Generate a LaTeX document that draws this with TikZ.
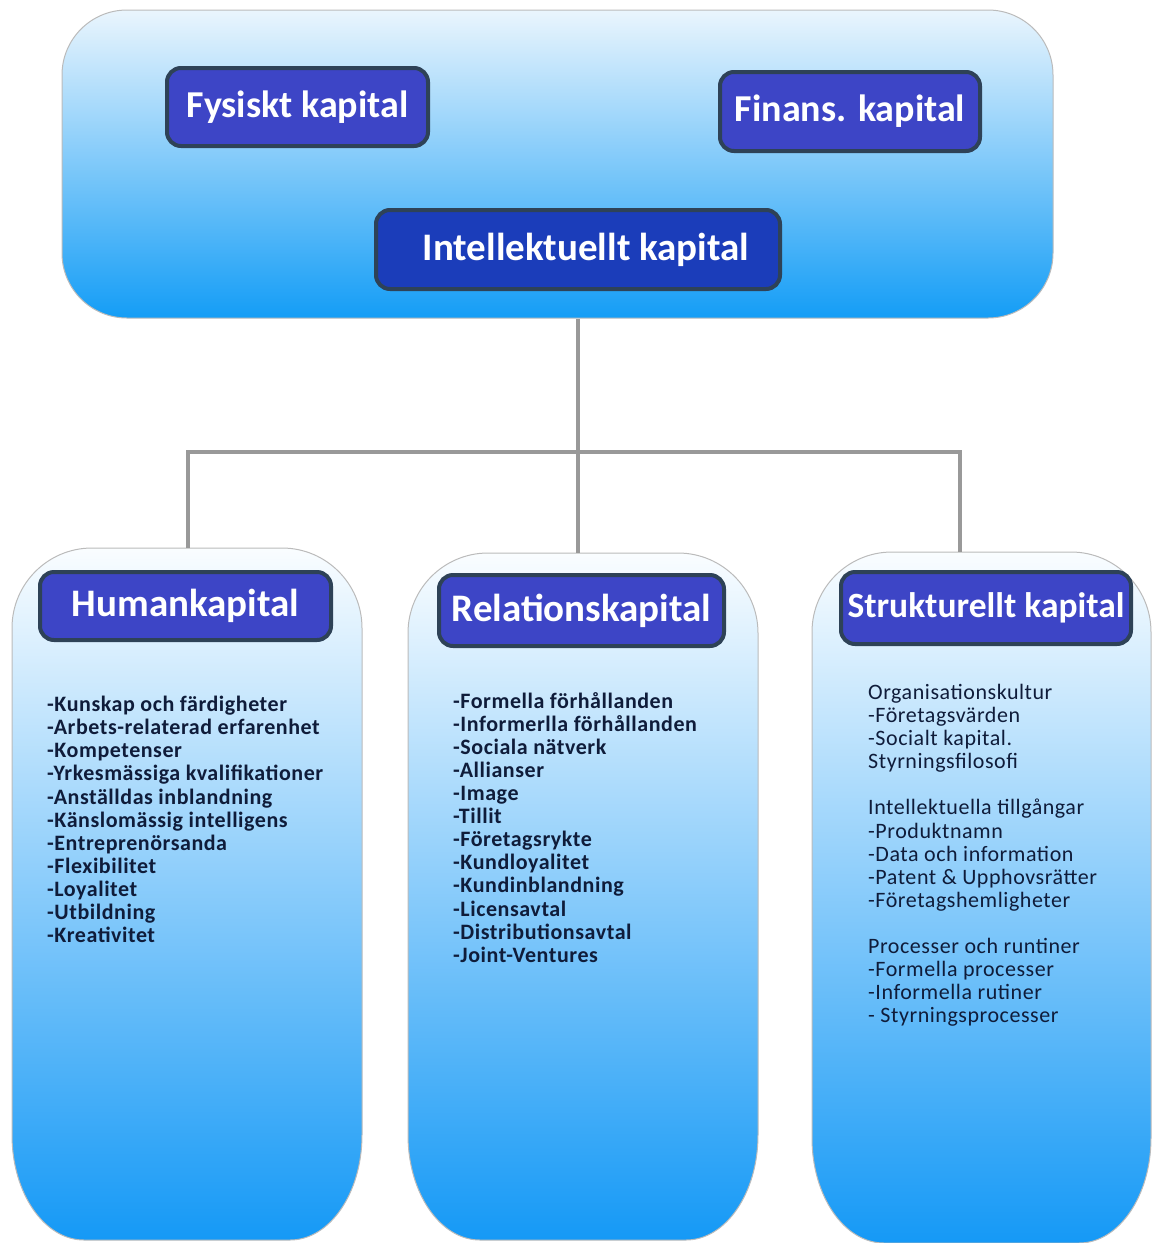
\documentclass[tikz,border=0pt]{standalone}
\usepackage{fontspec}
\setmainfont{Carlito}
\definecolor{titlefill}{HTML}{3D45C6}
\definecolor{titleborder}{HTML}{2E4257}
\definecolor{intfill}{HTML}{1B3DBA}
\definecolor{topgradA}{HTML}{EAF5FD}
\definecolor{topgradB}{HTML}{149DF6}
\definecolor{colgradA}{HTML}{FAFDFF}
\definecolor{colgradB}{HTML}{1599F6}
\definecolor{boxline}{HTML}{BBBBBB}
\definecolor{linegray}{HTML}{999999}
\definecolor{bodytext}{HTML}{0F1C3A}
\newcommand{\columnpath}[4]{%
  \path[colbox] (#1,#3+80) arc[start angle=180,end angle=270,radius=80]
    -- (#2-80,#3) arc[start angle=270,end angle=360,radius=80]
    -- (#2,#4-105) arc[start angle=0,end angle=90,x radius=72,y radius=105]
    -- (#1+72,#4) arc[start angle=90,end angle=180,x radius=72,y radius=105]
    -- cycle;}
\begin{document}
\begin{tikzpicture}[x=1pt,y=-1pt,
  bigbox/.style={draw=boxline, line width=1pt, top color=topgradA, bottom color=topgradB},
  colbox/.style={draw=boxline, line width=1pt, top color=colgradA, bottom color=colgradB},
  titlebox/.style={draw=titleborder, line width=4pt, fill=titlefill, rounded corners=14pt,
    text=white, font=\fontsize{39}{46}\selectfont\bfseries, inner sep=0pt},
  bodytxt/.style={anchor=north west, align=left, inner sep=0pt, text=bodytext,
    font=\fontsize{22}{23.1}\selectfont\addfontfeature{LetterSpace=2.5}\bfseries},
  conn/.style={draw=linegray, line width=4pt}
]
\useasboundingbox (0,0) rectangle (1153,1243);

% top container
\node[bigbox, rounded corners=65pt, minimum width=991pt, minimum height=308pt, inner sep=0pt] (top) at (557.5,164) {};
\node[titlebox, minimum width=261pt, minimum height=78pt, font=\fontsize{38}{46}\selectfont\bfseries] (fys) at (297.5,107) {Fysiskt kapital};
\node[titlebox, minimum width=260pt, minimum height=79pt, font=\fontsize{38}{46}\selectfont\bfseries] (fin) at (850,111.5) {Finans. kapital};
\node[titlebox, fill=intfill, minimum width=404pt, minimum height=79pt] (int) at (578,249.5) {\hspace*{16pt}Intellektuellt kapital};

% columns
\columnpath{12}{362}{548}{1240}
\columnpath{408}{758}{553}{1240}
\columnpath{812}{1151}{552}{1243}
\coordinate (humT) at (188,548);
\coordinate (relT) at (578,553);
\coordinate (strT) at (960,552);
\coordinate (bus) at (578,452);

% connectors
\draw[conn] (top.south -| relT) -- (relT);
\draw[conn, line join=miter] (humT) -- (humT |- bus) -- (strT |- bus) -- (strT);

% column titles
\node[titlebox, minimum width=291pt, minimum height=68pt] (hum) at (185.5,606) {Humankapital};
\node[titlebox, minimum width=285pt, minimum height=71pt] (rel) at (581.5,610.5) {Relationskapital};
\node[titlebox, minimum width=290pt, minimum height=72pt, font=\fontsize{35.5}{42}\selectfont\bfseries] (str) at (986,608) {Strukturellt kapital};

% column texts
\node[bodytxt] (humtext) at (47,696) {-Kunskap och färdigheter\\-Arbets-relaterad erfarenhet\\-Kompetenser\\-Yrkesmässiga kvalifikationer\\-Anställdas inblandning\\-Känslomässig intelligens\\-Entreprenörsanda\\-Flexibilitet\\-Loyalitet\\-Utbildning\\-Kreativitet};
\node[bodytxt] (reltext) at (453,692) {-Formella förhållanden\\-Informerlla förhållanden\\-Sociala nätverk\\-Allianser\\-Image\\-Tillit\\-Företagsrykte\\-Kundloyalitet\\-Kundinblandning\\-Licensavtal\\-Distributionsavtal\\-Joint-Ventures};
\node[bodytxt, font=\fontsize{22}{23.1}\selectfont\addfontfeature{LetterSpace=2.5}] (strtext) at (868,684) {Organisationskultur\\-Företagsvärden\\-Socialt kapital.\\Styrningsfilosofi\\[23.1pt]Intellektuella tillgångar\\-Produktnamn\\-Data och information\\-Patent \& Upphovsrätter\\-Företagshemligheter\\[23.1pt]Processer och runtiner\\-Formella processer\\-Informella rutiner\\- Styrningsprocesser};
\end{tikzpicture}
\end{document}
